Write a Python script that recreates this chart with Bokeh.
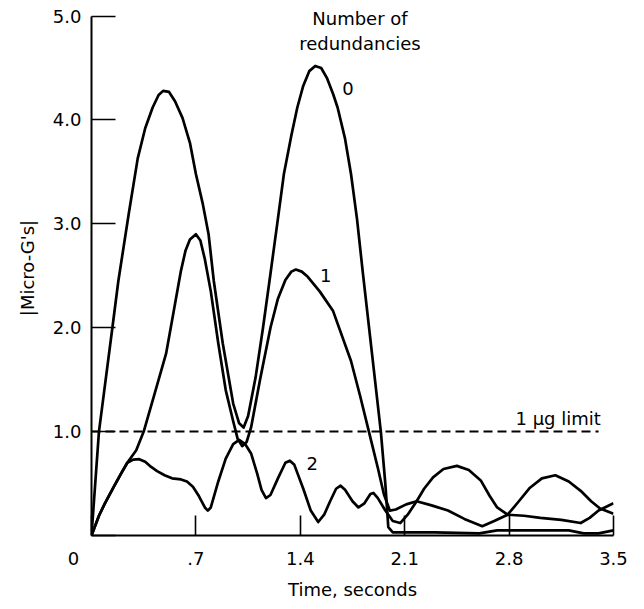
from bokeh.plotting import figure
from bokeh.models import Range1d, FixedTicker, Label
from bokeh.embed import file_html
from bokeh.resources import INLINE

# ---- data ----
t0 = [0, 0.05, 0.14, 0.18, 0.25, 0.31, 0.36, 0.41, 0.45, 0.48, 0.52, 0.56, 0.61, 0.66, 0.70,
      0.745, 0.785, 0.82, 0.88, 0.95, 0.99, 1.02, 1.05, 1.10, 1.15, 1.20, 1.25, 1.29, 1.34,
      1.38, 1.42, 1.46, 1.50, 1.54, 1.58, 1.62, 1.65, 1.70, 1.74, 1.78, 1.82, 1.88, 1.94,
      1.97, 1.99, 2.02, 2.3, 2.6, 2.72, 3.0, 3.2, 3.3, 3.4, 3.5]
v0 = [0, 1.0, 2.0, 2.45, 3.1, 3.63, 3.92, 4.12, 4.24, 4.28, 4.27, 4.18, 4.02, 3.78, 3.48,
      3.2, 2.9, 2.45, 1.85, 1.27, 1.08, 1.04, 1.15, 1.52, 2.0, 2.52, 3.05, 3.48, 3.85,
      4.12, 4.33, 4.47, 4.52, 4.5, 4.4, 4.25, 4.12, 3.82, 3.48, 3.05, 2.52, 1.76, 1.0,
      0.5, 0.08, 0.03, 0.03, 0.02, 0.05, 0.05, 0.05, 0.02, 0.02, 0.05]

t1 = [0, 0.05, 0.09, 0.15, 0.20, 0.24, 0.30, 0.35, 0.42, 0.50, 0.55, 0.60, 0.63, 0.66, 0.70,
      0.73, 0.76, 0.80, 0.85, 0.90, 0.95, 0.98, 1.01, 1.04, 1.07, 1.13, 1.20, 1.25, 1.30,
      1.34, 1.37, 1.41, 1.45, 1.53, 1.62, 1.74, 1.80, 1.86, 1.92, 1.96, 2.0, 2.04, 2.11,
      2.18, 2.28, 2.39, 2.5, 2.62, 2.7, 2.79, 2.9, 3.01, 3.15, 3.28, 3.34, 3.4, 3.5]
v1 = [0, 0.19, 0.31, 0.47, 0.60, 0.70, 0.82, 1.0, 1.35, 1.75, 2.15, 2.55, 2.74, 2.85, 2.9,
      2.84, 2.66, 2.35, 1.85, 1.4, 1.1, 0.93, 0.86, 0.9, 1.04, 1.5, 2.0, 2.28, 2.46,
      2.54, 2.56, 2.54, 2.49, 2.35, 2.16, 1.68, 1.35, 1.0, 0.65, 0.4, 0.24, 0.25, 0.3,
      0.33, 0.29, 0.24, 0.16, 0.09, 0.14, 0.2, 0.19, 0.17, 0.15, 0.12, 0.17, 0.24, 0.31]

t2 = [0, 0.05, 0.09, 0.15, 0.20, 0.24, 0.28, 0.32, 0.36, 0.40, 0.44, 0.49, 0.54, 0.60, 0.64,
      0.68, 0.72, 0.76, 0.78, 0.80, 0.85, 0.90, 0.95, 0.99, 1.03, 1.07, 1.11, 1.14, 1.17,
      1.20, 1.25, 1.30, 1.33, 1.36, 1.42, 1.47, 1.52, 1.56, 1.60, 1.64, 1.67, 1.70, 1.75,
      1.79, 1.83, 1.87, 1.89, 1.92, 1.97, 2.02, 2.07, 2.12, 2.18, 2.23, 2.29, 2.36, 2.45,
      2.53, 2.61, 2.67, 2.72, 2.79, 2.86, 2.94, 3.02, 3.11, 3.2, 3.28, 3.35, 3.41, 3.5]
v2 = [0, 0.19, 0.31, 0.47, 0.60, 0.70, 0.73, 0.735, 0.71, 0.66, 0.62, 0.58, 0.55, 0.54, 0.52,
      0.47, 0.38, 0.27, 0.24, 0.27, 0.52, 0.74, 0.88, 0.92, 0.88, 0.79, 0.6, 0.44, 0.36,
      0.39, 0.55, 0.7, 0.72, 0.68, 0.45, 0.24, 0.13, 0.2, 0.33, 0.45, 0.48, 0.44, 0.33,
      0.27, 0.31, 0.4, 0.41, 0.36, 0.24, 0.14, 0.12, 0.2, 0.33, 0.45, 0.56, 0.64, 0.67,
      0.63, 0.53, 0.38, 0.27, 0.2, 0.32, 0.46, 0.55, 0.58, 0.52, 0.43, 0.33, 0.26, 0.21]

curve_names = ["0", "1", "2"]
limit_value = 1.0
limit_t = [0, 3.4]
x_ticks = [0, 0.7, 1.4, 2.1, 2.8, 3.5]
x_tick_labels = ["0\u2003\u2003", ".7", "1.4", "2.1", "2.8", "3.5"]
y_ticks = [0, 1, 2, 3, 4, 5]
y_tick_labels = ["", "1.0", "2.0", "3.0", "4.0", "5.0"]

FONT = "DejaVu Sans"

p = figure(width=644, height=609, output_backend="svg", toolbar_location=None,
           x_range=Range1d(0, 3.5), y_range=Range1d(0, 5.15),
           min_border_left=91, min_border_right=31, min_border_top=0, min_border_bottom=74)
p.outline_line_color = None
p.grid.visible = False
p.background_fill_color = "white"

for t, v in [(t0, v0), (t1, v1), (t2, v2)]:
    p.line(t, v, line_color="black", line_width=2.7, line_join="round")

p.line(limit_t, [limit_value, limit_value], line_color="black", line_width=2, line_dash="9 5")

# axes
p.xaxis.ticker = FixedTicker(ticks=x_ticks)
p.xaxis.major_label_overrides = {k: s for k, s in zip(x_ticks, x_tick_labels)}
p.yaxis.ticker = FixedTicker(ticks=y_ticks)
p.yaxis.major_label_overrides = {k: s for k, s in zip(y_ticks, y_tick_labels)}
p.yaxis.bounds = (0, 5)
for ax in (p.xaxis[0], p.yaxis[0]):
    ax.axis_line_width = 2
    ax.axis_line_color = "black"
    ax.major_tick_out = 0
    ax.major_tick_line_width = 1.6
    ax.major_tick_line_color = "black"
    ax.minor_tick_line_color = None
    ax.major_label_text_font = FONT
    ax.major_label_text_font_size = "18px"
    ax.major_label_text_color = "black"
    ax.axis_label_text_font = FONT
    ax.axis_label_text_font_size = "18px"
    ax.axis_label_text_font_style = "normal"
    ax.axis_label_text_color = "black"
p.xaxis.major_tick_in = 20
p.yaxis.major_tick_in = 24
p.xaxis.major_label_standoff = 12
p.yaxis.major_label_standoff = 10
p.xaxis.axis_label = "Time, seconds"
p.xaxis.axis_label_standoff = 7
p.yaxis.axis_label = "|Micro-G's|"
p.yaxis.axis_label_standoff = 12

def lab(text, x, y, align="center"):
    p.add_layout(Label(x=x, y=y, text=text, text_font=FONT, text_font_size="18px",
                       text_color="black", text_align=align, text_baseline="middle"))

lab("Number of", 1.80, 4.975)
lab("redundancies", 1.80, 4.735)
lab(curve_names[0], 1.72, 4.30)
lab(curve_names[1], 1.57, 2.50)
lab(curve_names[2], 1.48, 0.69)
lab("1 \u03bcg limit", 3.415, 1.13, align="right")

open("out.html", "w").write(file_html(p, INLINE))
